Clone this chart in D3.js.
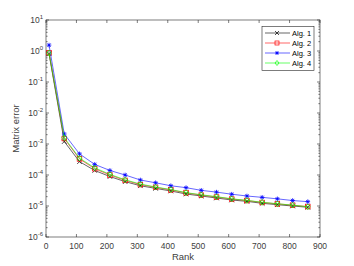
<!DOCTYPE html>
<html>
<head>
<meta charset="utf-8">
<script src="https://cdn.jsdelivr.net/npm/d3@7"></script>
<style>
  body { margin: 0; background: #fff; }
  text { font-family: "Liberation Sans", Arial, sans-serif; }
</style>
</head>
<body>
<div id="chart"></div>
<script>
// data
const rank = [10, 60, 110, 160, 210, 260, 310, 360, 410, 460, 510, 560, 610, 660, 710, 760, 810, 860];
const alg1 = [0.82, 1.2e-3, 2.7e-4, 1.4e-4, 8.9e-5, 6.1e-5, 4.5e-5, 3.7e-5, 3.05e-5, 2.44e-5, 2.1e-5, 1.81e-5, 1.56e-5, 1.41e-5, 1.22e-5, 1.1e-5, 1.0e-5, 9.1e-6];
const alg2 = [0.88, 1.5e-3, 3.3e-4, 1.6e-4, 1.0e-4, 6.7e-5, 4.9e-5, 4.0e-5, 3.3e-5, 2.65e-5, 2.25e-5, 1.95e-5, 1.68e-5, 1.5e-5, 1.3e-5, 1.17e-5, 1.06e-5, 9.6e-6];
const alg3 = [1.55, 2.1e-3, 4.8e-4, 2.2e-4, 1.4e-4, 1.0e-4, 6.9e-5, 5.6e-5, 4.5e-5, 3.9e-5, 3.2e-5, 2.8e-5, 2.4e-5, 2.1e-5, 1.9e-5, 1.7e-5, 1.5e-5, 1.38e-5];
const alg4 = [0.86, 1.6e-3, 3.5e-4, 1.7e-4, 1.05e-4, 7.0e-5, 5.1e-5, 4.1e-5, 3.4e-5, 2.7e-5, 2.3e-5, 2.0e-5, 1.7e-5, 1.52e-5, 1.32e-5, 1.18e-5, 1.07e-5, 9.4e-6];
const names = ["Alg. 1", "Alg. 2", "Alg. 3", "Alg. 4"];
const xTicks = [0, 100, 200, 300, 400, 500, 600, 700, 800, 900];
const yExps = [-6, -5, -4, -3, -2, -1, 0, 1];

const series = [
  {name: names[0], vals: alg1, color: "#000000", marker: "x"},
  {name: names[1], vals: alg2, color: "#ff0000", marker: "square"},
  {name: names[2], vals: alg3, color: "#0000ff", marker: "star"},
  {name: names[3], vals: alg4, color: "#00ff00", marker: "diamond"}
];

const W = 354, H = 266;
const L = 46, R = 320, T = 20, B = 237;
const axisColor = "#262626";
const labelColor = "#404040";

const svg = d3.select("#chart").append("svg")
  .attr("width", W).attr("height", H);

const x = d3.scaleLinear().domain([0, 900]).range([L, R]);
const y = d3.scaleLog().domain([1e-6, 10]).range([B, T]);

// box
svg.append("rect")
  .attr("x", L).attr("y", T).attr("width", R - L).attr("height", B - T)
  .attr("fill", "#fff").attr("stroke", axisColor).attr("stroke-width", 0.6);

const ticks = svg.append("g").attr("stroke", axisColor).attr("stroke-width", 0.6);

// x ticks top and bottom
xTicks.forEach(function(t) {
  ticks.append("line").attr("x1", x(t)).attr("x2", x(t)).attr("y1", B).attr("y2", B - 3);
  ticks.append("line").attr("x1", x(t)).attr("x2", x(t)).attr("y1", T).attr("y2", T + 3);
});

// y ticks major + minor, both sides
yExps.forEach(function(e) {
  const v = Math.pow(10, e);
  ticks.append("line").attr("x1", L).attr("x2", L + 3).attr("y1", y(v)).attr("y2", y(v));
  ticks.append("line").attr("x1", R).attr("x2", R - 3).attr("y1", y(v)).attr("y2", y(v));
  if (e < 1) {
    for (let k = 2; k < 10; k++) {
      const m = k * v;
      ticks.append("line").attr("x1", L).attr("x2", L + 1.6).attr("y1", y(m)).attr("y2", y(m));
      ticks.append("line").attr("x1", R).attr("x2", R - 1.6).attr("y1", y(m)).attr("y2", y(m));
    }
  }
});

// tick labels
svg.append("g").selectAll("text").data(xTicks).join("text")
  .attr("x", d => x(d)).attr("y", B + 12)
  .attr("text-anchor", "middle").attr("font-size", 8.5).attr("fill", labelColor)
  .text(d => d);

const yl = svg.append("g").selectAll("text").data(yExps).join("text")
  .attr("x", L - 3).attr("y", d => y(Math.pow(10, d)) + 3)
  .attr("text-anchor", "end").attr("font-size", 8.5).attr("fill", labelColor);
yl.append("tspan").text("10");
yl.append("tspan").attr("dy", -4).attr("font-size", 6).text(d => d);

// axis titles
svg.append("text").attr("x", (L + R) / 2).attr("y", 260)
  .attr("text-anchor", "middle").attr("font-size", 9.5).attr("fill", labelColor).text("Rank");
svg.append("text").attr("transform", "translate(19," + ((T + B) / 2) + ") rotate(-90)")
  .attr("text-anchor", "middle").attr("font-size", 9.5).attr("fill", labelColor).text("Matrix error");

function drawMarker(g, type, cx, cy, color, s) {
  if (type === "x") {
    g.append("path").attr("d", `M${cx-s},${cy-s}L${cx+s},${cy+s}M${cx-s},${cy+s}L${cx+s},${cy-s}`)
      .attr("stroke", color).attr("stroke-width", 0.7).attr("fill", "none");
  } else if (type === "square") {
    g.append("rect").attr("x", cx - s).attr("y", cy - s).attr("width", 2 * s).attr("height", 2 * s)
      .attr("stroke", color).attr("stroke-width", 0.7).attr("fill", "none");
  } else if (type === "star") {
    const d = s * 0.72;
    g.append("path").attr("d", `M${cx-s},${cy}L${cx+s},${cy}M${cx},${cy-s}L${cx},${cy+s}M${cx-d},${cy-d}L${cx+d},${cy+d}M${cx-d},${cy+d}L${cx+d},${cy-d}`)
      .attr("stroke", color).attr("stroke-width", 0.8).attr("fill", "none");
  } else if (type === "diamond") {
    const r = s * 1.25;
    g.append("path").attr("d", `M${cx},${cy-r}L${cx+r*0.8},${cy}L${cx},${cy+r}L${cx-r*0.8},${cy}Z`)
      .attr("stroke", color).attr("stroke-width", 0.7).attr("fill", "none");
  }
}

const line = d3.line().x(d => x(d[0])).y(d => y(d[1]));

series.forEach(function(s) {
  const pts = rank.map((r, i) => [r, s.vals[i]]);
  const g = svg.append("g");
  g.append("path").attr("d", line(pts)).attr("fill", "none")
    .attr("stroke", s.color).attr("stroke-width", 0.6);
  pts.forEach(p => drawMarker(g, s.marker, x(p[0]), y(p[1]), s.color, 2.3));
});

// legend
const lg = svg.append("g");
lg.append("rect").attr("x", 262).attr("y", 26.5).attr("width", 52).attr("height", 44)
  .attr("fill", "#fff").attr("stroke", axisColor).attr("stroke-width", 0.6);
series.forEach(function(s, i) {
  const yy = 33 + i * 10;
  lg.append("line").attr("x1", 265).attr("x2", 290).attr("y1", yy).attr("y2", yy)
    .attr("stroke", s.color).attr("stroke-width", 0.6);
  drawMarker(lg, s.marker, 277, yy, s.color, 2);
  lg.append("text").attr("x", 292).attr("y", yy + 3).attr("font-size", 7.5)
    .attr("fill", "#000").text(s.name);
});
</script>
</body>
</html>
